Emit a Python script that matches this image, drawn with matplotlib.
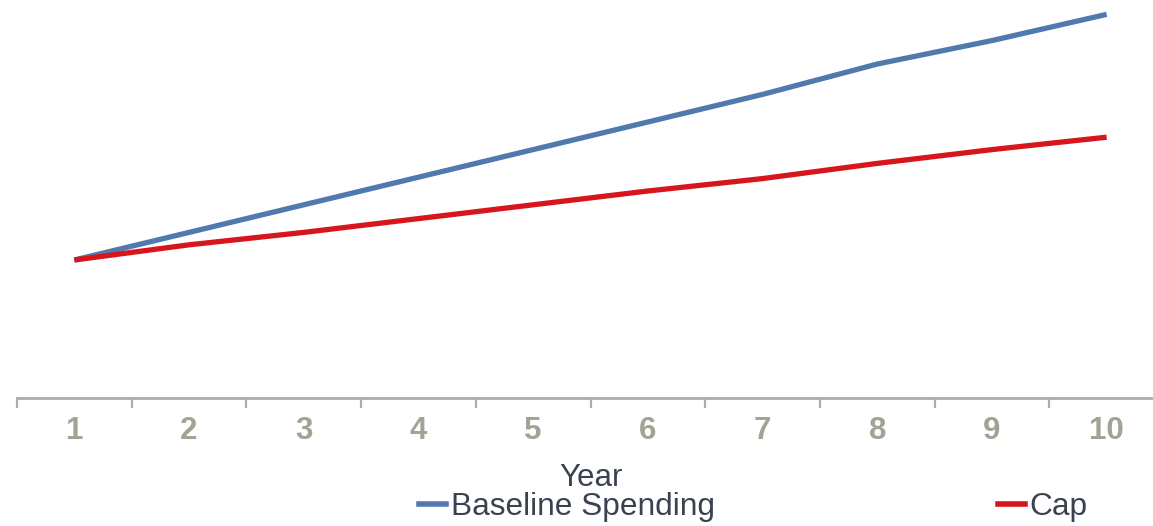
import matplotlib.pyplot as plt
from matplotlib.lines import Line2D

plt.rcParams['font.family'] = ['Liberation Sans', 'DejaVu Sans']

years = ['1', '2', '3', '4', '5', '6', '7', '8', '9', '10']
baseline = [100, 120, 140, 160, 180, 200, 220, 242, 259, 278]
cap = [100, 111, 120, 130, 140, 150, 159, 170, 180, 189]

BLUE = '#5079ad'
RED = '#d7151c'
AXIS_GRAY = '#aeaea3'
LABEL_GRAY = '#a3a394'
TEXT_DARK = '#3a4251'

W, H = 1153, 526
fig = plt.figure(figsize=(W / 100, H / 100), dpi=100)
ax = fig.add_axes([17 / W, 128 / H, 1147 / W, 398 / H])

x = range(1, len(years) + 1)
ax.plot(x, baseline, color=BLUE, lw=3.8, solid_capstyle='butt')
ax.plot(x, cap, color=RED, lw=3.8, solid_capstyle='butt')

ax.set_xlim(0.5, len(years) + 0.5)
ax.set_ylim(0, 288.4)

# category axis: ticks sit between categories, labels centred on them
ax.set_xticks([i + 0.5 for i in range(0, len(years) + 1)])
ax.set_xticklabels([])
ax.set_xticks(list(x), minor=True)
ax.set_xticklabels(years, minor=True, fontsize=22.5, fontweight='bold', color=LABEL_GRAY)
ax.tick_params(axis='x', which='major', direction='out', length=7, width=1.6, color=AXIS_GRAY)
ax.tick_params(axis='x', which='minor', length=0, pad=13)
ax.set_yticks([])

for side in ['top', 'right', 'left']:
    ax.spines[side].set_visible(False)
ax.spines['bottom'].set_color(AXIS_GRAY)
ax.spines['bottom'].set_linewidth(2)
ax.patch.set_alpha(0)

fig.text(591 / W, 1 - 478 / H, 'Year', ha='center', va='center', fontsize=22.5, color=TEXT_DARK)

handles = [Line2D([], [], color=BLUE, lw=4), Line2D([], [], color=RED, lw=4)]
fig.legend(handles, ['Baseline Spending', 'Cap'], ncol=2, frameon=False,
           loc='center left', bbox_to_anchor=(419 / W, 1 - 507 / H),
           borderpad=0, borderaxespad=0, handlelength=0.85, handletextpad=0.15,
           columnspacing=8.95, fontsize=22.8, labelcolor=TEXT_DARK)

fig.savefig('out.png', dpi=100, facecolor='white')
